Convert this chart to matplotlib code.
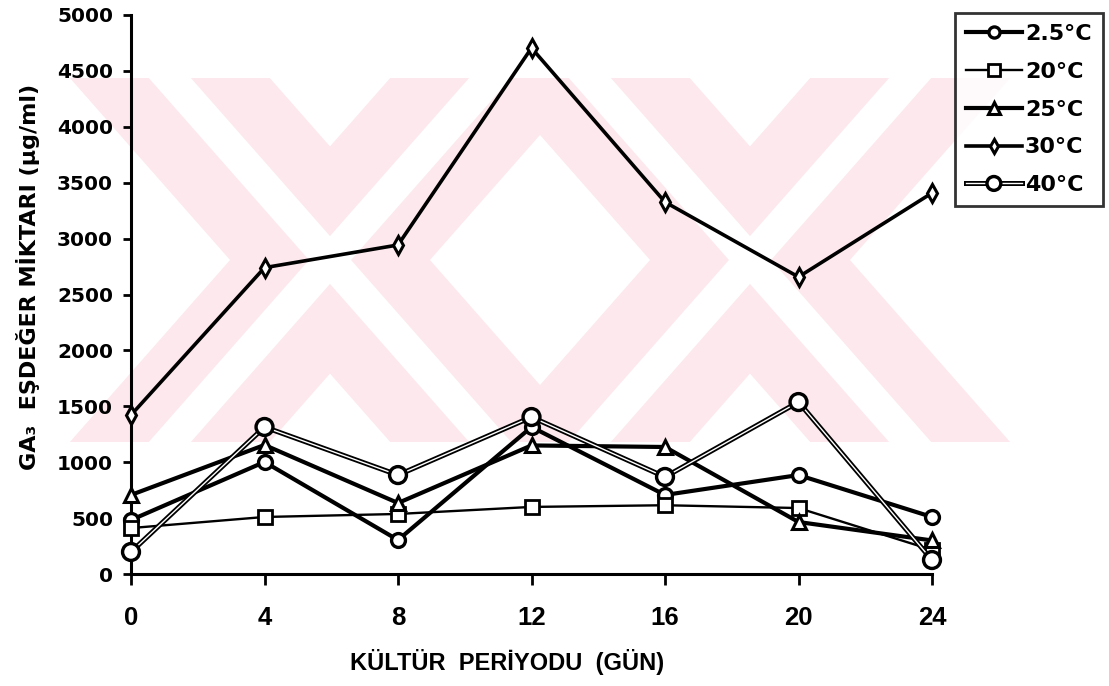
import matplotlib
matplotlib.use('Agg')
from matplotlib import pyplot as plt
from matplotlib import font_manager
from matplotlib.patches import Polygon
import matplotlib.patheffects as pe
import matplotlib.transforms as mtransforms

# Kultur periyodu (gun)
days = [0, 4, 8, 12, 16, 20, 24]

# GA3 esdeger miktari (ug/ml), sicakliga gore
t25c = [483, 1002, 304, 1315, 707, 885, 510]      # 2.5 C
t20 = [411, 510, 537, 600, 615, 590, 215]         # 20 C
t25 = [707, 1154, 635, 1150, 1136, 465, 300]      # 25 C
t30 = [1422, 2740, 2943, 4705, 3327, 2657, 3408]  # 30 C
t40 = [197, 1315, 885, 1404, 868, 1538, 125]      # 40 C

labels = ['2.5°C', '20°C', '25°C', '30°C', '40°C']
yticks = [0, 500, 1000, 1500, 2000, 2500, 3000, 3500, 4000, 4500, 5000]

W, H = 1109, 686
names = {f.name for f in font_manager.fontManager.ttflist}
narrow = 'Liberation Sans Narrow' in names
nfam = ['Liberation Sans Narrow', 'Liberation Sans'] if narrow else ['Liberation Sans']
xt_size = 20 if narrow else 18.5
xl_size = 20 if narrow else 17
wide = ['DejaVu Sans']

plt.rcParams['font.family'] = ['DejaVu Sans']
plt.rcParams['font.weight'] = 'bold'

fig = plt.figure(figsize=(W / 100, H / 100), dpi=100)

# soluk pembe filigran (arka plan), piksel koordinatlari
px = mtransforms.Affine2D().scale(1 / W, -1 / H).translate(0, 1) + fig.transFigure
y0, y1 = 78, 442
sh = 0.88 * (y1 - y0) / 2


def band(c, sgn, w, color):
    xt, xb = c - sgn * sh, c + sgn * sh
    poly = [(xt - w / 2, y0), (xt + w / 2, y0), (xb + w / 2, y1), (xb - w / 2, y1)]
    fig.patches.append(Polygon(poly, closed=True, transform=px, facecolor=color,
                               edgecolor='none', zorder=0))


for cx in [330, 750]:
    for sgn in [1, -1]:
        band(cx, sgn, 200, '#fde9ed')
for cx in [330, 750]:
    for sgn in [1, -1]:
        band(cx, sgn, 42, 'white')

ax = fig.add_axes([131 / W, 1 - 574 / H, 801 / W, 559 / H])
ax.set_zorder(1)
ax.patch.set_alpha(0)

k = dict(color='black', mfc='white', mec='black', clip_on=False, zorder=3)
ax.plot(days, t25c, marker='o', ms=10, lw=3.0, mew=2.4, label=labels[0], **k)
ax.plot(days, t20, marker='s', ms=10, lw=1.7, mew=2.0, label=labels[1], **k)
ax.plot(days, t25, marker='^', ms=10, lw=3.0, mew=2.2, label=labels[2], **k)
ax.plot(days, t30, marker='d', ms=9, lw=2.6, mew=2.2, label=labels[3], **k)
# 40C: cift cizgi (siyah kenar, beyaz ic)
ax.plot(days, t40, marker='o', ms=11, lw=1.0, color='white', mfc='white',
        mec='black', mew=1.3, clip_on=False, zorder=4, label=labels[4],
        path_effects=[pe.Stroke(linewidth=3.6, foreground='black'), pe.Normal()])

ax.set_xlim(0, 24)
ax.set_ylim(0, 5000)
ax.set_xticks(days)
ax.set_yticks(yticks)
ax.spines['top'].set_visible(False)
ax.spines['right'].set_visible(False)
for s in ['left', 'bottom']:
    ax.spines[s].set_linewidth(2.2)
ax.tick_params(axis='y', direction='out', length=6, width=2, pad=7, labelsize=14.5)
ax.tick_params(axis='x', direction='out', length=8, width=2, pad=15, labelsize=xt_size)
for t in ax.get_xticklabels():
    t.set_family(nfam)
    t.set_fontweight('bold')
for t in ax.get_yticklabels():
    t.set_family(wide)
    t.set_fontweight('bold')

fig.text(28 / W, 1 - 277 / H, 'GA₃  EŞDEĞER MİKTARI (µg/ml)', rotation=90,
         ha='center', va='center', fontsize=16, fontweight='bold', family=wide)
fig.text(507 / W, 1 - 662 / H, 'KÜLTÜR  PERİYODU  (GÜN)', ha='center', va='center',
         fontsize=xl_size, fontweight='bold', family=nfam)

leg = fig.legend(loc='upper left', bbox_to_anchor=(955 / W, 1 - 13 / H), frameon=True,
                 fancybox=False, edgecolor='black', handlelength=2.5, borderaxespad=0,
                 handletextpad=0.15, borderpad=0.5, labelspacing=0.8, markerscale=0.8,
                 prop={'size': 16, 'weight': 'bold', 'family': 'DejaVu Sans'})
leg.get_frame().set_linewidth(2.0)

fig.savefig('out.png', dpi=100)
